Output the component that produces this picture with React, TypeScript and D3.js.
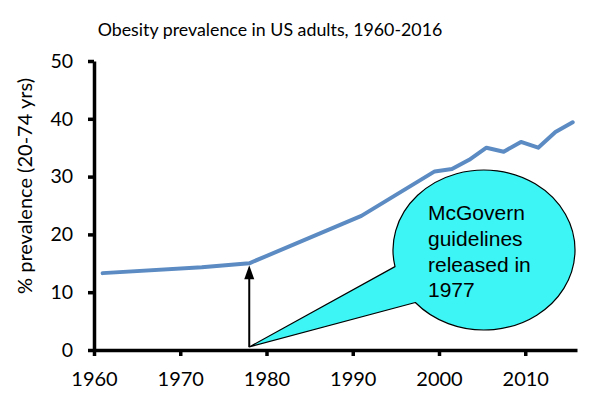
import React, { useRef, useEffect } from 'react';
import * as d3 from 'd3';

// survey mid-years and obesity prevalence (%)
const years = [1961, 1972.5, 1978, 1991, 1999.5, 2001.5, 2003.5, 2005.5, 2007.5, 2009.5, 2011.5, 2013.5, 2015.5];
const prevalence = [13.3, 14.3, 15.0, 23.2, 30.9, 31.3, 32.9, 35.0, 34.3, 36.0, 35.0, 37.7, 39.4];
const xTicks = [1960, 1970, 1980, 1990, 2000, 2010];
const yTicks = [0, 10, 20, 30, 40, 50];
const calloutLines = ['McGovern', 'guidelines', 'released in', '1977'];
const guidelineYear = 1978;

const W = 600;
const H = 402;

const App: React.FC = () => {
  const xAxisRef = useRef<SVGGElement | null>(null);
  const yAxisRef = useRef<SVGGElement | null>(null);

  const x = d3.scaleLinear().domain([1960, 2016]).range([94, 577]);
  const y = d3.scaleLinear().domain([0, 50]).range([350, 61]);

  useEffect(() => {
    if (!xAxisRef.current || !yAxisRef.current) return;

    const xa = d3.select(xAxisRef.current);
    xa.call(d3.axisBottom(x).tickValues(xTicks).tickFormat(d3.format('d')).tickSizeInner(6).tickSizeOuter(0).tickPadding(16));
    xa.select('.domain').attr('stroke', '#000').attr('stroke-width', 3.5);
    xa.selectAll('.tick line').attr('stroke', '#000').attr('stroke-width', 3.5);
    xa.selectAll('.tick text')
      .attr('font-family', 'Lato, "Open Sans", sans-serif')
      .attr('font-size', 20)
      .attr('fill', '#000');

    const ya = d3.select(yAxisRef.current);
    ya.call(d3.axisLeft(y).tickValues(yTicks).tickSizeInner(6).tickSizeOuter(0).tickPadding(15));
    ya.select('.domain').attr('stroke', '#000').attr('stroke-width', 3.5);
    ya.selectAll('.tick line').attr('stroke', '#000').attr('stroke-width', 3.5);
    ya.selectAll('.tick text')
      .attr('font-family', 'Lato, "Open Sans", sans-serif')
      .attr('font-size', 19.5)
      .attr('fill', '#000');
  }, []);

  const line = d3.line<number>()
    .x((_, i) => x(years[i]))
    .y(d => y(d));

  // callout bubble: ellipse with a tail pointing to the guideline year on the x axis
  const cx = 484, cy = 250, rx = 91, ry = 80;
  const a1 = (168 * Math.PI) / 180;
  const a2 = (139 * Math.PI) / 180;
  const ax = cx + rx * Math.cos(a1), ay = cy + ry * Math.sin(a1);
  const bx = cx + rx * Math.cos(a2), by = cy + ry * Math.sin(a2);
  const tipX = x(guidelineYear), tipY = y(0) - 3;
  const bubble = `M${tipX},${tipY} L${ax},${ay} A${rx},${ry} 0 1 1 ${bx},${by} Z`;

  const arrowX = x(guidelineYear);
  const arrowTop = y(prevalence[2]) + 2;

  return (
    <svg width={W} height={H} style={{ position: 'absolute', left: 0, top: 0, display: 'block', background: '#fff' }}>
      <text x={270} y={36} textAnchor="middle" fontFamily='Lato, "Open Sans", sans-serif' fontSize={17.8} fill="#000">
        Obesity prevalence in US adults, 1960-2016
      </text>
      <text
        transform="translate(32,186) rotate(-90)"
        textAnchor="middle"
        fontFamily='Lato, "Open Sans", sans-serif'
        fontSize={20}
        fill="#000"
      >
        % prevalence (20-74 yrs)
      </text>

      <path d={line(prevalence) || ''} fill="none" stroke="#5B8BC2" strokeWidth={4} strokeLinejoin="round" strokeLinecap="round" />

      {/* arrow at the guideline year */}
      <line x1={arrowX} x2={arrowX} y1={y(0) - 3} y2={arrowTop + 12} stroke="#000" strokeWidth={2} />
      <path d={`M${arrowX},${arrowTop} L${arrowX - 5},${arrowTop + 14} L${arrowX + 5},${arrowTop + 14} Z`} fill="#000" />

      <path d={bubble} fill="#3DF5F5" stroke="#000" strokeWidth={1.2} strokeLinejoin="round" />
      {calloutLines.map((t, i) => (
        <text key={t} x={428} y={220 + i * 25.8} fontFamily='"Liberation Sans", Arial, sans-serif' fontSize={21} fill="#000">
          {t}
        </text>
      ))}

      <g ref={xAxisRef} transform={`translate(0,${y(0)})`} />
      <g ref={yAxisRef} transform={`translate(${x(1960)},0)`} />
    </svg>
  );
};

export default App;
